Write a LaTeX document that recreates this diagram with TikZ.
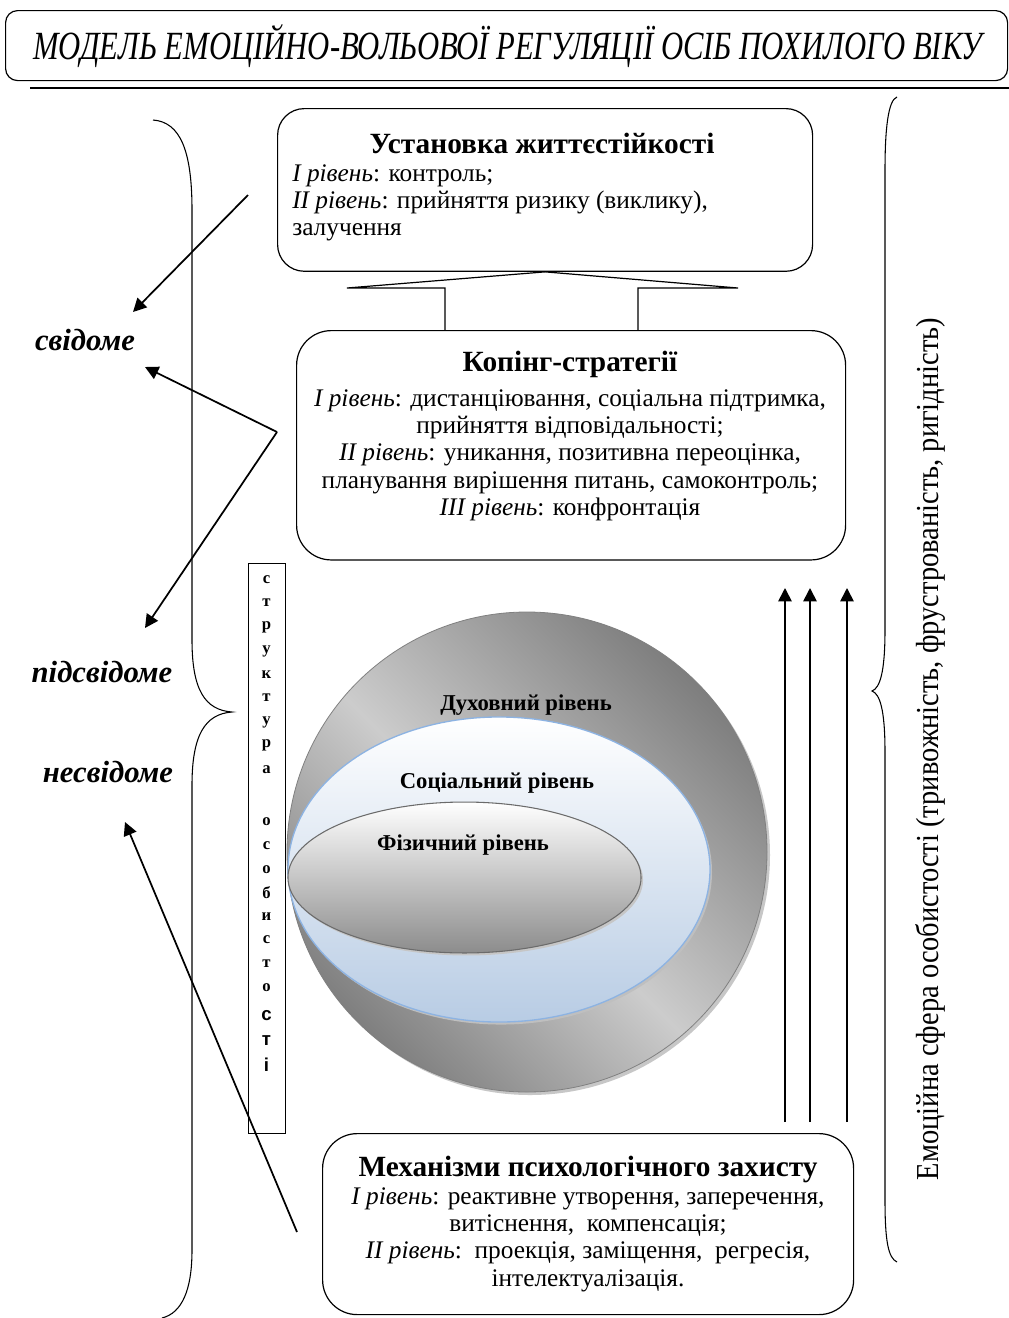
\documentclass[tikz,border=0pt]{standalone}
\usepackage{graphicx}
\usepackage{fontspec}
\setmainfont{Liberation Serif}
\newfontfamily\strsans{Liberation Sans}
\usetikzlibrary{arrows.meta}
\definecolor{sphdark}{gray}{0.46}
\definecolor{sphlight}{gray}{0.80}
\definecolor{socblue}{RGB}{184,204,228}
\definecolor{socedge}{RGB}{141,179,226}
\definecolor{phyedge}{gray}{0.42}
\definecolor{phybot}{gray}{0.55}
\definecolor{shadowgray}{gray}{0.78}
\pgfdeclarehorizontalshading{sphshade}{100bp}{color(0bp)=(sphdark); color(22bp)=(sphdark); color(48bp)=(sphlight); color(78bp)=(sphdark); color(100bp)=(sphdark)}
\begin{document}
\begin{tikzpicture}[x=0.75pt,y=-0.75pt,
  rbox/.style={draw, line width=0.9pt, inner sep=0pt, anchor=north west},
  ttl/.style={font=\fontsize{22}{26}\selectfont\bfseries, inner sep=0pt},
  bodytxt/.style={font=\fontsize{19}{20.6}\selectfont, align=center, inner sep=0pt},
  lvl/.style={font=\fontsize{23}{26}\selectfont\bfseries\itshape, inner sep=0pt},
  sphlbl/.style={font=\fontsize{17}{19}\selectfont\bfseries, inner sep=0pt},
  arr/.style={line width=1.3pt, -{Triangle[length=10pt,width=10pt]}},
  brc/.style={line width=0.8pt},
  structch/.style={font=\fontsize{12.5}{14}\selectfont\bfseries, inner sep=0pt},
  structsans/.style={font=\fontsize{14}{16}\selectfont\strsans\bfseries, inner sep=0pt}
]
\useasboundingbox (0,0) rectangle (1009,1318);
\fill[white] (0,0) rectangle (1009,1318);

% ---------- title ----------
\node[rbox, rounded corners=9pt, minimum width=751.5pt, minimum height=52.5pt] (titlebox) at (5,10) {};
\node[inner sep=0pt] (title) at (508,46) {\resizebox{712pt}{\height}{\fontsize{30}{34}\selectfont\itshape МОДЕЛЬ ЕМОЦІЙНО-ВОЛЬОВОЇ РЕГУЛЯЦІЇ ОСІБ ПОХИЛОГО ВІКУ}};
\coordinate (rulel) at (30,88);
\coordinate (ruler) at (1009,88);
\draw[line width=2.2pt] (rulel) -- (ruler);

% ---------- top box ----------
\node[rbox, rounded corners=20pt, minimum width=401.25pt, minimum height=122pt] (topbox) at (277,108) {};
\node[ttl] (toptitle) at (542,143) {Установка життєстійкості};
\node[bodytxt, align=left, anchor=north west] (topbody) at (292,164) {\textit{I рівень}: контроль;\\ \textit{II рівень}: прийняття ризику (виклику),\\ залучення};

% ---------- coping box ----------
\node[rbox, rounded corners=26pt, minimum width=411.75pt, minimum height=172pt] (copbox) at (296,330) {};
\node[ttl] (coptitle) at (570,364) {Копінг-стратегії};
\node[bodytxt, anchor=north] (copbody) at (570,389) {\textit{I рівень}: дистанціювання, соціальна підтримка,\\ прийняття відповідальності;\\ \textit{II рівень}: уникання, позитивна переоцінка,\\ планування вирішення питань, самоконтроль;\\ \textit{III рівень}: конфронтація};

% ---------- connector top <- coping ----------
\coordinate (hl) at (347,288);
\coordinate (sl) at (445,288);
\coordinate (sr) at (638,288);
\coordinate (hr) at (738,288);
\draw[line width=0.9pt] (sl |- copbox.north) -- (sl) -- (hl) -- (topbox.south) -- (hr) -- (sr) -- (sr |- copbox.north);

% ---------- bottom box ----------
\node[rbox, rounded corners=26pt, minimum width=398.25pt, minimum height=135.75pt] (botbox) at (322,1133) {};
\node[ttl] (bottitle) at (588,1169) {Механізми психологічного захисту};
\node[bodytxt, anchor=north] (botbody) at (588,1187) {\textit{I рівень}: реактивне утворення, заперечення,\\ витіснення,\ \ компенсація;\\ \textit{II рівень}:\ \ проекція, заміщення,\ \ регресія,\\ інтелектуалізація.};

% ---------- sphere ----------
\fill[shadowgray] (530,855) circle [radius=180pt];
\shade[shading=sphshade, shading angle=45] (527,852) circle [radius=180pt];
\draw[gray, line width=0.6pt] (527,852) circle [radius=180pt];
\fill[gray!50] (501,872) ellipse [x radius=158.25pt, y radius=114.4pt];
\shadedraw[top color=white, bottom color=socblue, draw=socedge, line width=1pt] (499,869.5) ellipse [x radius=158.25pt, y radius=114.4pt];
\fill[gray!45] (466.5,880) ellipse [x radius=132.4pt, y radius=56.6pt];
\shadedraw[top color=white, bottom color=phybot, draw=phyedge, line width=0.8pt] (464.5,877.5) ellipse [x radius=132.4pt, y radius=56.6pt];
\node[sphlbl] (duh) at (526,705) {Духовний рівень};
\node[sphlbl] (soc) at (497,783) {Соціальний рівень};
\node[sphlbl] (fiz) at (463,845) {Фізичний рівень};

% ---------- structure box ----------
\node[draw, line width=0.8pt, minimum width=27.75pt, minimum height=427.5pt, anchor=north west, inner sep=0pt] (strbox) at (248,563) {};
\foreach \ch/\yy [count=\i] in {с/580, т/603, р/627, у/651, к/675, т/698, у/722, р/745, а/770, о/822, с/846, о/870, б/893, и/917, с/940, т/964, о/988}
  \node[structch] (sc\i) at (266.5,\yy) {\ch};
\foreach \ch/\yy [count=\i] in {с/1016, т/1041, і/1065}
  \node[structsans] (ss\i) at (266.5,\yy) {\ch};

% ---------- left labels ----------
\node[lvl] (svid) at (85,340) {свідоме};
\node[lvl] (pidsvid) at (102,672) {підсвідоме};
\node[lvl] (nesvid) at (108,772) {несвідоме};

% ---------- left arrows ----------
\coordinate (a1s) at (248,195);
\coordinate (a1e) at (133,312);
\draw[arr] (a1s) -- (a1e);
\coordinate (vx) at (277,432);
\coordinate (a2e) at (145,367);
\coordinate (a3e) at (145,628);
\draw[arr] (vx) -- (a2e);
\draw[arr] (vx) -- (a3e);
\coordinate (a4s) at (297,1232);
\coordinate (a4e) at (125,822);
\draw[arr] (a4s) -- (a4e);

% ---------- up arrows ----------
\foreach \xx [count=\i] in {785,810,847} {
  \coordinate (ua\i) at (\xx,1122);
  \coordinate (ub\i) at (\xx,588);
  \draw[arr] (ua\i) -- (ub\i);
}

% ---------- left brace ----------
\draw[brc] (153,120) .. controls (180,122) and (192,150) .. (192,210) -- (192,640)
  .. controls (192,690) and (205,710) .. (232,712)
  .. controls (205,714) and (192,735) .. (192,785) -- (192,1250)
  .. controls (192,1290) and (182,1313) .. (162,1318);

% ---------- right brace ----------
\draw[brc] (897,97) .. controls (888,100) and (885,130) .. (885,170) -- (885,630)
  .. controls (885,672) and (880,688) .. (872,691)
  .. controls (880,694) and (885,710) .. (885,752) -- (885,1200)
  .. controls (885,1240) and (888,1258) .. (897,1262);

\node[rotate=90, inner sep=0pt] (emo) at (930,749) {\resizebox{646.5pt}{\height}{\fontsize{24}{28}\selectfont Емоційна сфера особистості (тривожність, фрустрованість, ригідність)}};
\end{tikzpicture}
\end{document}
